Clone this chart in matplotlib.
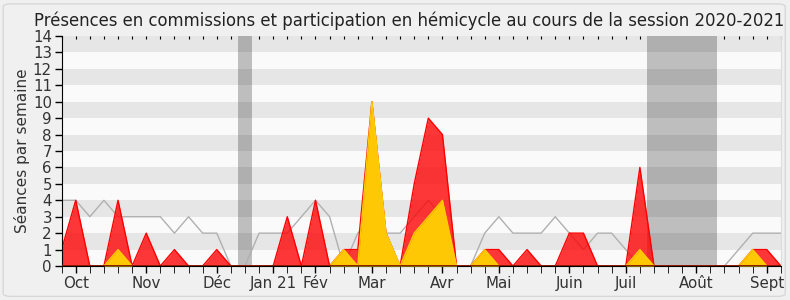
#presences en commission / hemicycle par semaine, session 2020-2021
import matplotlib.pyplot as plt
import numpy as np
from matplotlib.patches import FancyBboxPatch

# one value per week, 52 weeks
commission = [1, 4, 0, 0, 4, 0, 2, 0, 1, 0, 0, 1, 0, 0, 0, 0, 3, 0, 4, 0,
              1, 1, 10, 2, 0, 5, 9, 8, 0, 0, 1, 1, 0, 1, 0, 0, 2, 2, 0, 0,
              0, 6, 0, 0, 0, 0, 0, 0, 0, 1, 1, 0]
hemicycle = [0, 0, 0, 0, 1, 0, 0, 0, 0, 0, 0, 0, 0, 0, 0, 0, 0, 0, 0, 0,
             1, 0, 10, 2, 0, 2, 3, 4, 0, 0, 1, 0, 0, 0, 0, 0, 0, 0, 0, 0,
             0, 1, 0, 0, 0, 0, 0, 0, 0, 1, 0, 0]
mediane = [4, 4, 3, 4, 3, 3, 3, 3, 2, 3, 2, 2, 0, 0, 2, 2, 2, 3, 4, 3,
           0, 2, 3, 2, 2, 3, 4, 3, 0, 0, 2, 3, 2, 2, 2, 3, 2, 1, 2, 2,
           1, 0, 0, 0, 0, 0, 0, 0, 1, 2, 2, 2]
vacances = [(12.5, 13.5), (41.5, 46.5)]
mois_pos = [1, 6, 11, 15, 18, 22, 27, 31, 36, 40, 45, 50]
mois_labels = ['Oct', 'Nov', 'Déc', 'Jan 21', 'Fév', 'Mar', 'Avr', 'Mai',
               'Juin', 'Juil', 'Août', 'Sept']

weeks = np.arange(len(commission))

fig = plt.figure(figsize=(7.9, 3.0), dpi=100, facecolor='#f0f0f0')
fig.patches.append(FancyBboxPatch((0.004, 0.012), 0.99, 0.975,
                                  boxstyle='round,pad=0,rounding_size=0.01',
                                  transform=fig.transFigure, facecolor='none',
                                  edgecolor='#d8d8d8', lw=1))
ax = fig.add_axes([0.078, 0.1133, 0.9105, 0.7667])
ax.set_facecolor('#fafafa')

# vacation weeks
for a, b in vacances:
    ax.axvspan(a, b, color='#bebebe', lw=0, zorder=0.5)
# alternating stripes drawn over everything in the background
for y in range(1, 14, 2):
    ax.axhspan(y, y + 1, color='black', alpha=0.08, lw=0, zorder=0.6)

ax.plot(weeks, mediane, color='#b0b0b0', lw=1, zorder=1)
ax.fill_between(weeks, commission, color='#ff0000', alpha=0.78, lw=0, zorder=2)
ax.plot(weeks, commission, color='#ff0000', lw=1, zorder=2.1)
ax.fill_between(weeks, hemicycle, color='#ffd700', alpha=0.92, lw=0, zorder=3)
ax.plot(weeks, hemicycle, color='#ffcc00', lw=1, zorder=3.1)
ax.axhline(0, color='#7a0000', lw=1.2, zorder=4)

ax.set_xlim(0, len(commission) - 1)
ax.set_ylim(0, 14)
ax.set_yticks(range(0, 15))
ax.set_xticks(mois_pos)
ax.set_xticklabels(mois_labels)
ax.set_xticks(weeks, minor=True)
ax.tick_params(axis='both', labelsize=10.8, colors='#333333', length=5, width=1)
ax.tick_params(axis='x', which='both', length=5, color='black', pad=2)
ax.tick_params(axis='y', color='black', pad=2)

top = ax.secondary_xaxis('top')
top.set_xticks(weeks)
top.tick_params(direction='in', length=2, labeltop=False, color='black')
top.spines['top'].set_visible(False)

ax.spines['top'].set_visible(False)
ax.spines['right'].set_color('#dddddd')
ax.spines['left'].set_color('black')
ax.spines['bottom'].set_color('black')

ax.set_ylabel('Séances par semaine', fontsize=11, color='#333333', labelpad=2)
fig.text(0.518, 0.915, 'Présences en commissions et participation en hémicycle au cours de la session 2020-2021',
         ha='center', fontsize=11.9, color='#222222')

plt.savefig('out.png', dpi=100, facecolor=fig.get_facecolor())
